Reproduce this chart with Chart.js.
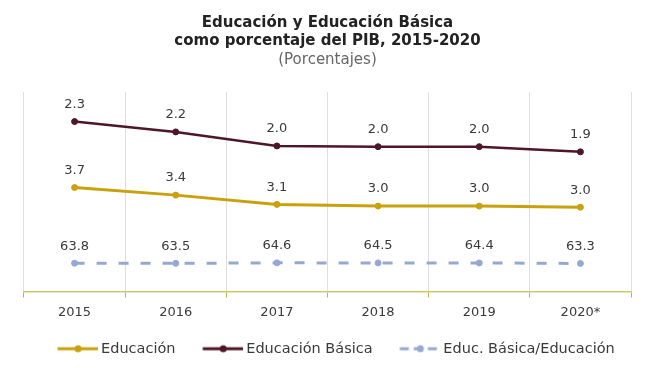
<!DOCTYPE html>
<html>
<head>
<meta charset="utf-8">
<script src="https://cdn.jsdelivr.net/npm/chart.js@4/dist/chart.umd.min.js"></script>
<style>
  body { margin: 0; background: #fff; }
  #wrap { width: 650px; height: 369px; }
</style>
</head>
<body>
<div id="wrap"><canvas id="eduChart" width="650" height="369"></canvas></div>
<script>
// datos
const years = ['2015', '2016', '2017', '2018', '2019', '2020*'];
const educacion = [3.70, 3.43, 3.10, 3.04, 3.04, 3.00];
const educBasica = [2.30, 2.16, 1.97, 1.96, 1.96, 1.89];
const basicaSobreEdu = [63.8, 63.5, 64.6, 64.5, 64.4, 63.3];

const FONT = 'DejaVu Sans';
const TEXT = '#3a3a3a';

// line+dot sample for the legend; the line sits at the right end of the
// box so the gap between items is wide and the gap to the text is small
function legendSample(color, dashed) {
  const c = document.createElement('canvas');
  c.width = 62.5; c.height = 10;
  const g = c.getContext('2d');
  g.strokeStyle = color;
  g.lineWidth = 3;
  if (dashed) g.setLineDash([9, 5]);
  g.beginPath();
  g.moveTo(21.5, 5); g.lineTo(62.5, 5);
  g.stroke();
  g.setLineDash([]);
  g.fillStyle = color;
  g.beginPath();
  g.arc(42, 5, 3.5, 0, Math.PI * 2);
  g.fill();
  return c;
}

// value labels above each point
const valueLabels = {
  id: 'valueLabels',
  afterDatasetsDraw(chart) {
    const ctx = chart.ctx;
    ctx.save();
    ctx.font = '13px "' + FONT + '"';
    ctx.fillStyle = TEXT;
    ctx.textAlign = 'center';
    ctx.textBaseline = 'middle';
    chart.data.datasets.forEach((ds, i) => {
      chart.getDatasetMeta(i).data.forEach((pt, j) => {
        ctx.fillText(ds.data[j].toFixed(1), pt.x, pt.y - 17);
      });
    });
    ctx.restore();
  }
};

const ctx = document.getElementById('eduChart').getContext('2d');
new Chart(ctx, {
  type: 'line',
  data: {
    labels: years,
    datasets: [
      {
        label: 'Educación',
        data: educacion,
        yAxisID: 'yEdu',
        borderColor: '#c9a10d',
        backgroundColor: '#c9a10d',
        borderWidth: 3,
        pointRadius: 3,
        pointBorderWidth: 1,
        tension: 0,
        legendSample: legendSample('#c9a10d', false),
      },
      {
        label: 'Educación Básica',
        data: educBasica,
        yAxisID: 'yBas',
        borderColor: '#4e1626',
        backgroundColor: '#4e1626',
        borderWidth: 2.5,
        pointRadius: 3,
        pointBorderWidth: 1,
        tension: 0,
        legendSample: legendSample('#4e1626', false),
      },
      {
        label: 'Educ. Básica/Educación',
        data: basicaSobreEdu,
        yAxisID: 'yRatio',
        borderColor: '#93a9d2',
        backgroundColor: '#93a9d2',
        borderWidth: 3,
        borderDash: [10, 12],
        pointRadius: 3,
        pointBorderWidth: 1,
        tension: 0,
        legendSample: legendSample('#93a9d2', true),
      },
    ],
  },
  options: {
    responsive: false,
    animation: false,
    layout: { padding: { left: 24, right: 19, top: 0, bottom: 3 } },
    plugins: {
      title: {
        display: true,
        text: ['Educación y Educación Básica', 'como porcentaje del PIB, 2015-2020'],
        color: '#222',
        font: { family: FONT, size: 15, weight: 'bold', lineHeight: 1.2 },
        padding: { top: 14, bottom: 1 },
      },
      subtitle: {
        display: true,
        text: '(Porcentajes)',
        color: '#666',
        font: { family: FONT, size: 15, lineHeight: 1.2 },
        padding: { top: 0, bottom: 23 },
      },
      legend: {
        position: 'bottom',
        labels: {
          usePointStyle: true,
          pointStyleWidth: 53.5,
          color: TEXT,
          padding: 10,
          font: { family: FONT, size: 14.5 },
          generateLabels(chart) {
            return chart.data.datasets.map((ds, i) => ({
              text: ds.label,
              pointStyle: ds.legendSample,
              fillStyle: 'transparent',
              strokeStyle: 'transparent',
              lineWidth: 0,
              fontColor: TEXT,
              hidden: false,
              datasetIndex: i,
            }));
          },
        },
      },
      tooltip: { enabled: false },
    },
    scales: {
      x: {
        offset: true,
        grid: {
          offset: true,
          color: '#dedede',
          tickColor: '#bdb54a',
          tickLength: 6,
        },
        border: { color: '#cfc76a', width: 1.5 },
        ticks: { color: TEXT, font: { family: FONT, size: 13 }, padding: 7 },
        // fixed axis height so the plot ends where the original does
        afterFit(scale) { scale.height = 40; },
      },
      yEdu: { display: false, min: 0, max: 7.1 },
      yBas: { display: false, min: 0, max: 2.7 },
      yRatio: { display: false, min: 0, max: 450 },
    },
  },
  plugins: [valueLabels],
});
</script>
</body>
</html>
